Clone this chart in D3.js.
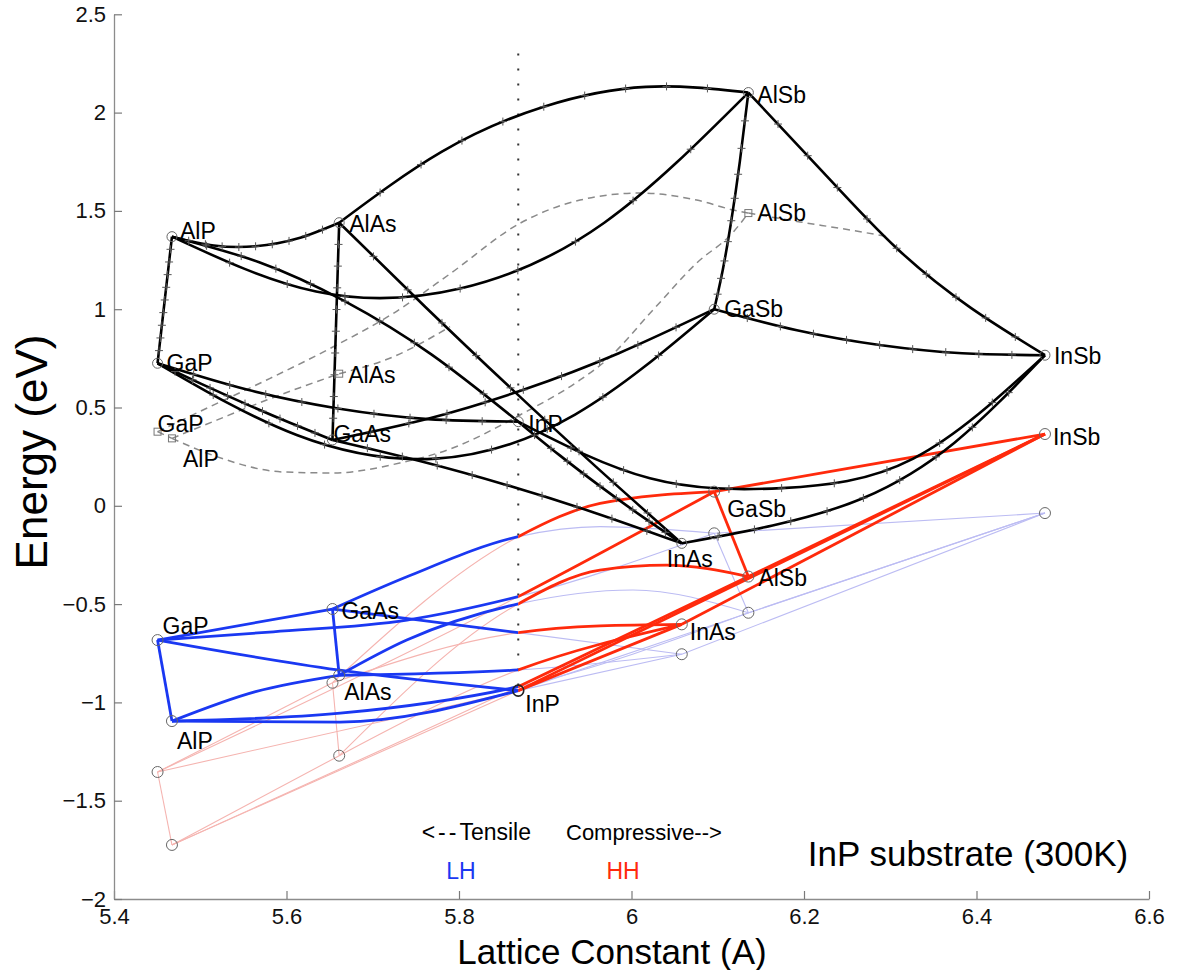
<!DOCTYPE html>
<html>
<head>
<meta charset="utf-8">
<title>III-V alloy band edges on InP</title>
<script src="https://cdn.jsdelivr.net/npm/d3@7/dist/d3.min.js"></script>
<style>
  html, body { margin: 0; padding: 0; background: #fff; }
  svg text { font-family: "Liberation Sans", Arial, Helvetica, sans-serif; }
</style>
</head>
<body>
<svg id="chart" width="1180" height="970"></svg>
<script>
// Binary compounds: lattice constant (Å) and strained band edges (eV) on an InP substrate
const binaries     = ["GaP", "AlP", "AlAs", "GaAs", "InP", "InAs", "GaSb", "AlSb", "InSb"];
const latticeConst = [5.4505, 5.4672, 5.6611, 5.6533, 5.8687, 6.0583, 6.0959, 6.1355, 6.4794];
const gammaEdge    = [0.725, 1.369, 1.440, 0.335, 0.428, -0.191, 1.000, 2.102, 0.766];
const xValleyEdge  = [0.377, 0.343, 0.672, null, null, null, null, 1.489, null];
const heavyHole    = [-1.354, -1.725, -1.271, -0.900, -0.940, -0.603, 0.072, -0.360, 0.365];
const lightHole    = [-0.683, -1.095, -0.862, -0.525, -0.940, -0.755, -0.140, -0.544, -0.037];

// Ternary alloys, from the first binary (x = 0) to the second (x = 1)
const alloys = [
  ["AlP", "GaP"], ["AlP", "InP"], ["GaP", "InP"],
  ["AlAs", "GaAs"], ["AlAs", "InAs"], ["GaAs", "InAs"],
  ["AlSb", "GaSb"], ["AlSb", "InSb"], ["GaSb", "InSb"],
  ["GaP", "GaAs"], ["GaP", "GaSb"], ["GaAs", "GaSb"],
  ["AlP", "AlAs"], ["AlP", "AlSb"], ["AlAs", "AlSb"],
  ["InP", "InAs"], ["InP", "InSb"], ["InAs", "InSb"]
];

// Gamma conduction edge at x = 0.25, 0.5, 0.75
const gammaInterior = [
  [1.208, 1.047, 0.886], [1.240, 1.040, 0.769], [0.590, 0.495, 0.441],
  [1.164, 0.888, 0.611], [1.014, 0.600, 0.198], [0.228, 0.105, -0.035],
  [1.751, 1.450, 1.200], [1.700, 1.310, 1.007], [0.893, 0.818, 0.776],
  [0.620, 0.520, 0.425], [0.360, 0.240, 0.464], [0.443, 0.590, 0.776],
  [1.324, 1.320, 1.359], [1.090, 1.105, 1.440], [1.800, 2.030, 2.131],
  [0.259, 0.100, -0.050], [0.140, 0.090, 0.240], [-0.100, 0.040, 0.320]
];

// Valence edge where the alloy is lattice matched to InP (HH = LH), null if never matched
const vbMatched = [null, null, null, null, -0.835, -0.645, null, null, null,
                   null, -0.462, -0.157, null, -0.920, -0.499, null, null, null];
// Additional [x, energy] samples of the light-hole and heavy-hole edges
const lhInterior = [
  [], [[0.485, -1.100]], [[0.5, -0.835]], [], [], [], [], [], [],
  [], [[0.208, -0.641], [0.448, -0.581]], [[0.195, -0.361], [0.701, -0.106]],
  [[0.5, -0.945]], [[0.292, -1.055]], [[0.165, -0.683], [0.718, -0.428]], [], [], []
];
const hhInterior = [
  [], [], [], [], [], [[0.766, -0.611]], [], [], [],
  [], [], [[0.701, 0.012]],
  [], [], [[0.637, -0.327], [0.800, -0.302]], [], [], []
];

// Indirect (X) valley branches, [lattice constant, energy], shown while below Gamma
const xBranches = [
  [[5.4505, 0.377], [5.4672, 0.343]],
  [[5.4672, 0.343], [5.5191, 0.436], [5.5770, 0.538], [5.6611, 0.672]],
  [[5.6611, 0.672], [5.7238, 0.758], [5.7896, 0.911]],
  [[5.4505, 0.377], [5.5113, 0.504], [5.5770, 0.640], [5.6543, 0.809], [5.7238, 0.979], [5.7896, 1.180],
   [5.8707, 1.437], [5.9403, 1.555], [6.0099, 1.591], [6.0756, 1.555], [6.1177, 1.505], [6.1355, 1.489]],
  [[5.4672, 0.343], [5.5191, 0.250], [5.5959, 0.172], [5.6539, 0.167], [5.7316, 0.218], [5.7896, 0.289],
   [5.8707, 0.462], [5.9403, 0.640], [5.9712, 0.742], [6.0249, 0.996], [6.0756, 1.235], [6.1177, 1.391], [6.1355, 1.489]],
  [[6.1355, 1.489], [6.1954, 1.444], [6.2533, 1.403], [6.2997, 1.367]]
];

const xTicks = [5.4, 5.6, 5.8, 6.0, 6.2, 6.4, 6.6];
const yTicks = [-2, -1.5, -1, -0.5, 0, 0.5, 1, 1.5, 2, 2.5];

// ---------------------------------------------------------------------------
const svg = d3.select("#chart");
const x = d3.scaleLinear().domain([5.4, 6.6]).range([114, 1149]);
const y = d3.scaleLinear().domain([-2, 2.5]).range([899, 14.3]);
const bi = name => binaries.indexOf(name);
const aSub = latticeConst[bi("InP")];
const xSub = x(aSub);

const COLORS = {
  cb: "#000", xv: "#8a8a8a",
  lh: "#1a38f2", hh: "#ff2a0c",
  lhThin: "#bcbcf3", hhThin: "#f5b4b0",
  marker: "#555"
};

const defs = svg.append("defs");
defs.append("clipPath").attr("id", "tensile")
  .append("rect").attr("x", 0).attr("y", 0).attr("width", xSub).attr("height", 970);
defs.append("clipPath").attr("id", "compressive")
  .append("rect").attr("x", xSub).attr("y", 0).attr("width", 1180 - xSub).attr("height", 970);

// ---- axes ----
const fmt = d => String(+d.toFixed(2)).replace("-", "\u2212");
const gx = svg.append("g").attr("transform", `translate(0,${y(-2)})`)
  .call(d3.axisBottom(x).tickValues(xTicks).tickSizeInner(-8).tickSizeOuter(0).tickPadding(9).tickFormat(fmt));
const gy = svg.append("g").attr("transform", `translate(${x(5.4)},0)`)
  .call(d3.axisLeft(y).tickValues(yTicks).tickSizeInner(-8).tickSizeOuter(0).tickPadding(8).tickFormat(fmt));
[gx, gy].forEach(g => {
  g.select(".domain").attr("stroke", "#8c8c8c").attr("stroke-width", 1.3);
  g.selectAll(".tick line").attr("stroke", "#7a7a7a").attr("stroke-width", 1.2);
  g.selectAll(".tick text").attr("font-size", 22).attr("fill", "#111")
    .style("font-family", '"Liberation Sans", Arial, sans-serif');
});

// ---- valence curves ----
function valencePoints(i, band) {
  const [A, B] = alloys[i];
  const a0 = latticeConst[bi(A)], a1 = latticeConst[bi(B)];
  const edge = band === "lh" ? lightHole : heavyHole;
  const extra = band === "lh" ? lhInterior[i] : hhInterior[i];
  const pts = [[0, edge[bi(A)]], ...extra, [1, edge[bi(B)]]];
  if (vbMatched[i] !== null) pts.push([(aSub - a0) / (a1 - a0), vbMatched[i]]);
  return pts.map(([c, e]) => [a0 + c * (a1 - a0), e]).sort((p, q) => p[0] - q[0]);
}
const vbLine = d3.line().x(d => x(d[0])).y(d => y(d[1])).curve(d3.curveMonotoneX);

const gThin = svg.append("g").attr("fill", "none");
alloys.forEach((_, i) => {
  gThin.append("path").attr("d", vbLine(valencePoints(i, "hh")))
    .attr("clip-path", "url(#tensile)").attr("stroke", COLORS.hhThin).attr("stroke-width", 1.1);
  gThin.append("path").attr("d", vbLine(valencePoints(i, "lh")))
    .attr("clip-path", "url(#compressive)").attr("stroke", COLORS.lhThin).attr("stroke-width", 1.1);
});

// ---- X valley (dashed) ----
const xvLine = d3.line().x(d => x(d[0])).y(d => y(d[1])).curve(d3.curveMonotoneX);
svg.append("g").attr("fill", "none")
  .selectAll("path").data(xBranches).join("path")
  .attr("d", xvLine)
  .attr("stroke", COLORS.xv).attr("stroke-width", 1.5).attr("stroke-dasharray", "7,5");

// ---- InP lattice-match line ----
svg.append("line")
  .attr("x1", xSub).attr("x2", xSub)
  .attr("y1", y(2.3)).attr("y2", y(heavyHole[bi("InP")]))
  .attr("stroke", "#333").attr("stroke-width", 2).attr("stroke-dasharray", "2,13");

// ---- bold valence (top band on each side of the substrate) ----
const gBold = svg.append("g").attr("fill", "none");
alloys.forEach((_, i) => {
  gBold.append("path").attr("d", vbLine(valencePoints(i, "lh")))
    .attr("clip-path", "url(#tensile)").attr("stroke", COLORS.lh).attr("stroke-width", 2.8);
  gBold.append("path").attr("d", vbLine(valencePoints(i, "hh")))
    .attr("clip-path", "url(#compressive)").attr("stroke", COLORS.hh).attr("stroke-width", 2.8);
});

// ---- Gamma conduction band ----
const cbLine = d3.line().x(d => x(d[0])).y(d => y(d[1])).curve(d3.curveNatural);
const compositionSteps = d3.range(1, 10).map(k => k / 10);
const gCB = svg.append("g").attr("fill", "none");
const gMarks = svg.append("g");

function pointAtX(node, tx) {
  const L = node.getTotalLength();
  const inc = node.getPointAtLength(L).x > node.getPointAtLength(0).x;
  let lo = 0, hi = L;
  for (let k = 0; k < 40; k++) {
    const mid = (lo + hi) / 2;
    const px = node.getPointAtLength(mid).x;
    if ((px < tx) === inc) lo = mid; else hi = mid;
  }
  return node.getPointAtLength((lo + hi) / 2);
}

alloys.forEach(([A, B], i) => {
  const a0 = latticeConst[bi(A)], a1 = latticeConst[bi(B)];
  const pts = [[a0, gammaEdge[bi(A)]]]
    .concat(gammaInterior[i].map((e, k) => [a0 + (k + 1) * 0.25 * (a1 - a0), e]))
    .concat([[a1, gammaEdge[bi(B)]]]);
  const path = gCB.append("path").attr("d", cbLine(pts))
    .attr("stroke", COLORS.cb).attr("stroke-width", 2.6);
  const node = path.node();
  compositionSteps.forEach(c => {
    const p = pointAtX(node, x(a0 + c * (a1 - a0)));
    gMarks.append("path")
      .attr("d", `M${p.x - 4},${p.y}H${p.x + 4}M${p.x},${p.y - 4}V${p.y + 4}`)
      .attr("stroke", COLORS.marker).attr("stroke-width", 1);
  });
});

// ---- binary markers ----
const gPts = svg.append("g").attr("fill", "none");
binaries.forEach((b, k) => {
  const px = x(latticeConst[k]);
  gPts.append("circle").attr("cx", px).attr("cy", y(gammaEdge[k])).attr("r", 5)
    .attr("stroke", "#666").attr("stroke-width", 1);
  if (xValleyEdge[k] !== null)
    gPts.append("rect").attr("x", px - 3.5).attr("y", y(xValleyEdge[k]) - 3.5)
      .attr("width", 7).attr("height", 7).attr("stroke", "#777").attr("stroke-width", 1);
  const strong = b === "InP";
  gPts.append("circle").attr("cx", px).attr("cy", y(heavyHole[k])).attr("r", 5.5)
    .attr("stroke", strong ? "#222" : "#666").attr("stroke-width", strong ? 1.6 : 1);
  if (!strong)
    gPts.append("circle").attr("cx", px).attr("cy", y(lightHole[k])).attr("r", 5.5)
      .attr("stroke", "#666").attr("stroke-width", 1);
});

// ---- compound labels: [compound, band, dx, dy] ----
const labelLayout = [
  ["AlP", "c", 8, -6], ["GaP", "c", 9, 0], ["AlAs", "c", 10, 1], ["GaAs", "c", 1, -6],
  ["InP", "c", 10, 2], ["InAs", "c", -15, 16], ["GaSb", "c", 10, 0], ["AlSb", "c", 9, 2], ["InSb", "c", 9, 1],
  ["GaP", "x", 0, -8], ["AlP", "x", 11, 21], ["AlAs", "x", 9, 1], ["AlSb", "x", 9, 0],
  ["GaP", "lh", 5, -14], ["AlP", "lh", 5, 20], ["GaAs", "lh", 9, 2], ["AlAs", "lh", 5, 17],
  ["InP", "hh", 7, 13], ["InAs", "hh", 8, 8], ["GaSb", "hh", 13, 17], ["AlSb", "hh", 10, 1], ["InSb", "hh", 8, 3]
];
const bandEdge = { c: gammaEdge, x: xValleyEdge, lh: lightHole, hh: heavyHole };
svg.append("g").selectAll("text").data(labelLayout).join("text")
  .attr("x", d => x(latticeConst[bi(d[0])]) + d[2])
  .attr("y", d => y(bandEdge[d[1]][bi(d[0])]) + d[3])
  .attr("dominant-baseline", "central")
  .attr("font-size", 23).attr("fill", "#000")
  .text(d => d[0]);

// ---- annotations ----
const tensile = svg.append("text").attr("x", 531).attr("y", 832).attr("text-anchor", "end")
  .attr("dominant-baseline", "central").attr("font-size", 23);
tensile.append("tspan").attr("letter-spacing", 3).text("<--");
tensile.append("tspan").text("Tensile");
svg.append("text").attr("x", 566).attr("y", 832).attr("text-anchor", "start")
  .attr("dominant-baseline", "central").attr("font-size", 22).text("Compressive-->");
svg.append("text").attr("x", 461).attr("y", 871).attr("text-anchor", "middle")
  .attr("dominant-baseline", "central").attr("font-size", 23).attr("fill", COLORS.lh).text("LH");
svg.append("text").attr("x", 623).attr("y", 871).attr("text-anchor", "middle")
  .attr("dominant-baseline", "central").attr("font-size", 23).attr("fill", COLORS.hh).text("HH");
svg.append("text").attr("x", 968).attr("y", 853).attr("text-anchor", "middle")
  .attr("dominant-baseline", "central").attr("font-size", 35).text("InP substrate (300K)");

// ---- axis titles ----
svg.append("text").attr("x", 612).attr("y", 951).attr("text-anchor", "middle")
  .attr("dominant-baseline", "central").attr("font-size", 35).text("Lattice Constant (A)");
svg.append("text").attr("transform", "translate(31,452) rotate(-90)")
  .attr("text-anchor", "middle").attr("dominant-baseline", "central")
  .attr("font-size", 44).text("Energy (eV)");
</script>
</body>
</html>
